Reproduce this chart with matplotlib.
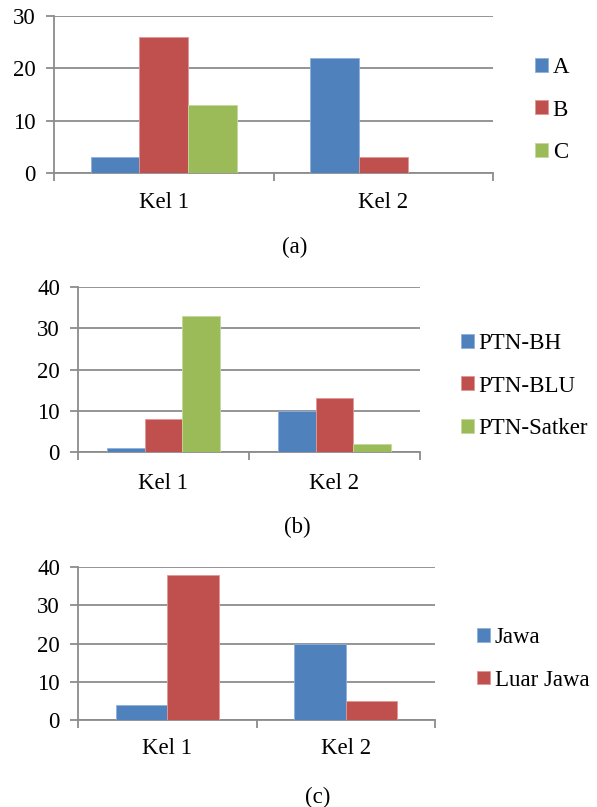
import numpy as np
import matplotlib
matplotlib.use('Agg')
import matplotlib.pyplot as plt

plt.rcParams['font.family'] = ['Liberation Serif', 'DejaVu Serif']

# data for the three panels
groups = ['Kel 1', 'Kel 2']

labels_a = ['A', 'B', 'C']
values_a = [[3, 22], [26, 3], [13, 0]]

labels_b = ['PTN-BH', 'PTN-BLU', 'PTN-Satker']
values_b = [[1, 10], [8, 13], [33, 2]]

labels_c = ['Jawa', 'Luar Jawa']
values_c = [[4, 20], [38, 5]]

colors = ['#4F81BD', '#C0504D', '#9BBB59']
edges = ['#8EB0DA', '#E09896', '#C3D99B']
grid_col = '#8C8C8C'
fs = 16.5

W, H = 597, 807
fig = plt.figure(figsize=(W / 100, H / 100), dpi=100)


def panel(box, labels, values, ymax, bar_w, leg_xy, caption, cap_xy, lab_pad):
    l, r, t, b = box
    ax = fig.add_axes([l / W, 1 - b / H, (r - l) / W, (b - t) / H])
    x = np.arange(len(groups))
    n = len(labels)
    for i, (lab, vals) in enumerate(zip(labels, values)):
        off = (i - (n - 1) / 2) * bar_w
        ax.bar(x + off, vals, bar_w, color=colors[i], edgecolor=edges[i],
               linewidth=0.6, label=lab, zorder=3)
    ax.set_xlim(-0.5, len(groups) - 0.5)
    ax.set_ylim(0, ymax)
    ax.set_yticks(np.arange(0, ymax + 1, 10))
    ax.yaxis.grid(True, color=grid_col, linewidth=1.3, zorder=0)
    ax.set_axisbelow(True)
    for s in ['top', 'right']:
        ax.spines[s].set_visible(False)
    for s in ['left', 'bottom']:
        ax.spines[s].set_color(grid_col)
        ax.spines[s].set_linewidth(1.3)
    ax.set_xticks(x)
    ax.set_xticklabels(groups)
    ax.set_xticks(np.arange(-0.5, len(groups)), minor=True)
    ax.tick_params(axis='x', which='major', length=0, pad=lab_pad, labelsize=fs)
    ax.tick_params(axis='x', which='minor', length=6, width=1.3, color=grid_col)
    ax.tick_params(axis='y', length=6, width=1.3, color=grid_col, pad=7, labelsize=fs)
    ax.legend(loc='center left', bbox_to_anchor=(leg_xy[0] / W, 1 - leg_xy[1] / H),
              bbox_transform=fig.transFigure, frameon=False, fontsize=fs,
              handlelength=0.55, handleheight=0.55, handletextpad=0.22,
              labelspacing=0.93, borderpad=0, borderaxespad=0)
    fig.text(cap_xy[0] / W, 1 - cap_xy[1] / H, caption, ha='center', va='center', fontsize=fs)
    return ax


panel((54, 493, 16, 173), labels_a, values_a, 30, 0.222, (535, 110), '(a)', (295, 247), 14)
panel((78, 420, 287, 452), labels_b, values_b, 40, 0.222, (461, 386), '(b)', (297, 527), 15)
panel((78, 435, 567, 720), labels_c, values_c, 40, 0.288, (477, 659), '(c)', (318, 797), 13)

fig.savefig('out.png', dpi=100)
